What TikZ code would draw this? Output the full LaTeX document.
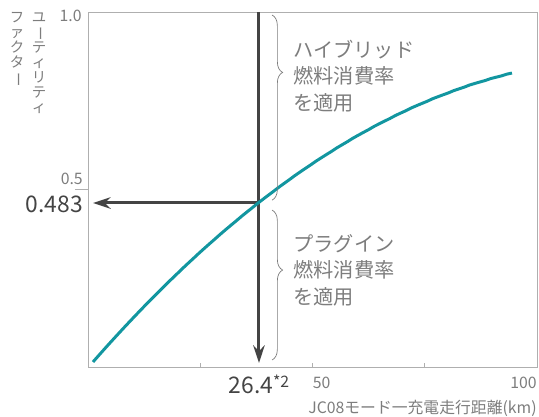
\documentclass[tikz,border=0pt]{standalone}
\usepackage{fontspec}
\newfontfamily\jpfont{Noto Sans CJK JP}
\usetikzlibrary{arrows.meta,positioning,decorations.pathreplacing}
\definecolor{curveteal}{RGB}{18,150,160}
\definecolor{arrowgray}{RGB}{68,68,68}
\definecolor{labelgray}{RGB}{125,125,125}
\definecolor{framegray}{RGB}{175,175,175}

\begin{document}
\begin{tikzpicture}[x=0.0898cm,y=7.1cm,>={Stealth[length=10pt,width=6.5pt]},
    frame/.style={draw=framegray,line width=0.5pt},
    pointer/.style={->,draw=arrowgray,line width=1.7pt},
    ufcurve/.style={draw=curveteal,line width=1.7pt},
    bracket/.style={draw=labelgray,line width=0.4pt,decorate,
        decoration={brace,amplitude=6pt,aspect=#1}},
    ticklabel/.style={font=\jpfont\fontsize{9}{10}\selectfont,text=labelgray,inner sep=0pt},
    value/.style={font=\jpfont\fontsize{13}{14}\selectfont,text=arrowgray,inner sep=0pt},
    note/.style={font=\jpfont\fontsize{11.5}{15}\selectfont,text=labelgray,align=left,inner sep=0pt},
    vlabel/.style={font=\jpfont\fontsize{8.2}{8.6}\selectfont,text=labelgray,align=center,
        inner sep=0pt,anchor=north}]

    \useasboundingbox (-19.6,-0.1408) rectangle (100.45,1.0338);

    % frame and ticks
    \draw[frame] (0,0) rectangle (100,1);
    \foreach \k in {25,50,75}
        \draw[frame] (\k,0) -- (\k,0.011);
    \draw[frame] (-2.9,0.5) -- (0,0.5);

    % reading the curve
    \coordinate (top) at (38.08,1);
    \coordinate (cross) at (38.08,0.462);
    \coordinate (bottom) at (38.08,0.0113);
    \coordinate (left) at (1.11,0.462);
    \draw[pointer] (top) -- (bottom);
    \draw[pointer] (cross) -- (left);

    \draw[ufcurve] plot[domain=1.11:94.43,samples=80]
        (\x,{-0.0019+0.014534*\x-0.00006174*\x*\x});

    % braces
    \coordinate (hybtop) at (41.0,0.9915);
    \coordinate (hybbot) at (41.0,0.470);
    \coordinate (plgtop) at (41.0,0.442);
    \coordinate (plgbot) at (41.0,0.0197);
    \draw[bracket=0.31] (hybtop) -- (hybbot);
    \draw[bracket=0.40] (plgtop) -- (plgbot);

    \node[note,anchor=west] (hybrid) at (45.7,0.820) {ハイブリッド\\燃料消費率\\を適用};
    \node[note,anchor=west] (plugin) at (45.7,0.273) {プラグイン\\燃料消費率\\を適用};

    % axis labels
    \node[ticklabel,anchor=east] (one) at (-1.34,0.99) {1.0};
    \node[ticklabel,anchor=east] (half) at (-1.1,0.53) {0.5};
    \node[value,anchor=east] (ufval) at (-1.1,0.459) {0.483};
    \node[value,anchor=north] (kmval) at (bottom |- 0,-0.022)
        {26.4\raisebox{0.45ex}{\fontsize{9}{9}\selectfont*2}};
    \node[ticklabel,anchor=north west] (fifty) at (50,-0.026) {50};
    \node[ticklabel,anchor=north east] (hundred) at (100,-0.026) {100};
    \node[ticklabel,anchor=east] (xlabel) at (100,-0.1155) {JC08モード一充電走行距離(km)};

    \node[vlabel] (uf) at (-10.9,1.0)
        {ユ\\\rotatebox[origin=c]{-90}{ー}\\テ\\ィ\\リ\\テ\\ィ};
    \node[vlabel] (factor) at (-15.8,1.0)
        {フ\\ァ\\ク\\タ\\\rotatebox[origin=c]{-90}{ー}};
\end{tikzpicture}
\end{document}
